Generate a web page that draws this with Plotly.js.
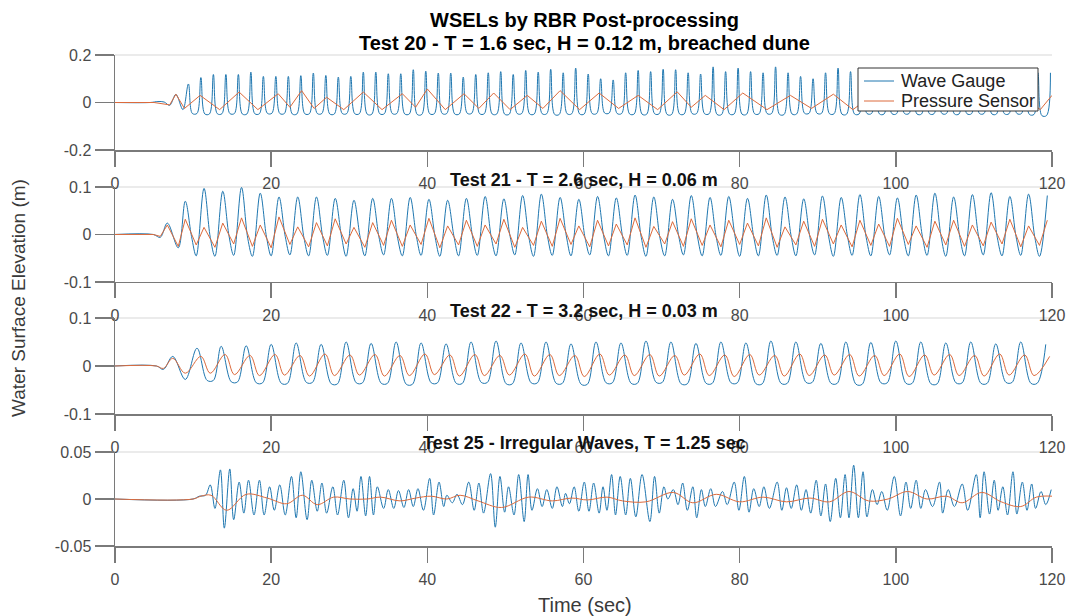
<!DOCTYPE html>
<html><head><meta charset="utf-8">
<script src="https://cdn.plot.ly/plotly-3.0.1.min.js"></script>
<style>html,body{margin:0;padding:0;background:#fff}#chart{width:1067px;height:616px}</style>
</head><body><div id="chart"></div>
<script>
// ---------- Tick labels ----------
const xTicks = [0, 20, 40, 60, 80, 100, 120];
const xTickText = ['0', '20', '40', '60', '80', '100', '120'];
const y20Ticks = [-0.2, 0, 0.2];   const y20TickText = ['-0.2', '0', '0.2'];
const y21Ticks = [-0.1, 0, 0.1];   const y21TickText = ['-0.1', '0', '0.1'];
const y22Ticks = [-0.1, 0, 0.1];   const y22TickText = ['-0.1', '0', '0.1'];
const y25Ticks = [-0.05, 0, 0.05]; const y25TickText = ['-0.05', '0', '0.05'];

const seriesNames = ['Wave Gauge', 'Pressure Sensor'];
const mainTitle = ['WSELs by RBR Post-processing', 'Test 20 - T = 1.6 sec, H = 0.12 m, breached dune'];
const panelTitles = [
  'Test 21 - T = 2.6 sec, H = 0.06 m',
  'Test 22 - T = 3.2 sec, H = 0.03 m',
  'Test 25 - Irregular Waves, T = 1.25 sec'
];

// ---------- Test 20 (T = 1.6 s) ----------
const wg20LeadT = [0, 4.5, 5.5, 6.3, 7.0, 7.8, 8.7];
const wg20LeadY = [0, 0, 0.004, 0.002, -0.012, 0.034, -0.030];
const wg20CrestT = [
  9.4, 11.0, 12.6, 14.2, 15.8, 17.4, 19.0, 20.6, 22.2, 23.8,
  25.4, 27.0, 28.6, 30.2, 31.8, 33.4, 35.0, 36.6, 38.2, 39.8,
  41.4, 43.0, 44.6, 46.2, 47.8, 49.4, 51.0, 52.6, 54.2, 55.8,
  57.4, 59.0, 60.6, 62.2, 63.8, 65.4, 67.0, 68.6, 70.2, 71.8,
  73.4, 75.0, 76.6, 78.2, 79.8, 81.4, 83.0, 84.6, 86.2, 87.8,
  89.4, 91.0, 92.6, 94.2, 95.8, 97.4, 99.0, 100.6, 102.2, 103.8,
  105.4, 107.0, 108.6, 110.2, 111.8, 113.4, 115.0, 116.6, 118.2, 119.8];
const wg20CrestY = [
  0.078, 0.105, 0.118, 0.118, 0.118, 0.128, 0.110, 0.110, 0.110, 0.113,
  0.124, 0.114, 0.107, 0.110, 0.128, 0.128, 0.121, 0.121, 0.138, 0.132,
  0.124, 0.124, 0.107, 0.118, 0.125, 0.130, 0.118, 0.135, 0.128, 0.140,
  0.125, 0.145, 0.120, 0.100, 0.095, 0.125, 0.135, 0.130, 0.140, 0.138,
  0.125, 0.120, 0.150, 0.130, 0.145, 0.130, 0.125, 0.150, 0.125, 0.110,
  0.100, 0.125, 0.145, 0.130, 0.120, 0.130, 0.125, 0.120, 0.130, 0.125,
  0.120, 0.130, 0.125, 0.120, 0.130, 0.125, 0.120, 0.125, 0.125, 0.125];
// broad troughs: start and end of each trough
const wg20TroughStartT = [
  9.9, 11.5, 13.1, 14.7, 16.3, 17.9, 19.5, 21.1, 22.7, 24.3,
  25.9, 27.5, 29.1, 30.7, 32.3, 33.9, 35.5, 37.1, 38.7, 40.3,
  41.9, 43.5, 45.1, 46.7, 48.3, 49.9, 51.5, 53.1, 54.7, 56.3,
  57.9, 59.5, 61.1, 62.7, 64.3, 65.9, 67.5, 69.1, 70.7, 72.3,
  73.9, 75.5, 77.1, 78.7, 80.3, 81.9, 83.5, 85.1, 86.7, 88.3,
  89.9, 91.5, 93.1, 94.7, 96.3, 97.9, 99.5, 101.1, 102.7, 104.3,
  105.9, 107.5, 109.1, 110.7, 112.3, 113.9, 115.5, 117.1, 118.7];
const wg20TroughEndT = [
  10.5, 12.1, 13.7, 15.3, 16.9, 18.5, 20.1, 21.7, 23.3, 24.9,
  26.5, 28.1, 29.7, 31.3, 32.9, 34.5, 36.1, 37.7, 39.3, 40.9,
  42.5, 44.1, 45.7, 47.3, 48.9, 50.5, 52.1, 53.7, 55.3, 56.9,
  58.5, 60.1, 61.7, 63.3, 64.9, 66.5, 68.1, 69.7, 71.3, 72.9,
  74.5, 76.1, 77.7, 79.3, 80.9, 82.5, 84.1, 85.7, 87.3, 88.9,
  90.5, 92.1, 93.7, 95.3, 96.9, 98.5, 100.1, 101.7, 103.3, 104.9,
  106.5, 108.1, 109.7, 111.3, 112.9, 114.5, 116.1, 117.7, 119.3];
const wg20TroughY = [
  -0.046, -0.048, -0.047, -0.046, -0.048, -0.047, -0.045, -0.046, -0.048, -0.047,
  -0.046, -0.048, -0.046, -0.047, -0.049, -0.047, -0.046, -0.048, -0.050, -0.047,
  -0.046, -0.048, -0.045, -0.047, -0.048, -0.049, -0.046, -0.048, -0.047, -0.050,
  -0.047, -0.048, -0.046, -0.044, -0.046, -0.048, -0.049, -0.047, -0.050, -0.048,
  -0.046, -0.047, -0.050, -0.048, -0.049, -0.047, -0.046, -0.050, -0.048, -0.045,
  -0.045, -0.047, -0.049, -0.048, -0.046, -0.048, -0.047, -0.046, -0.048, -0.047,
  -0.046, -0.048, -0.047, -0.046, -0.048, -0.047, -0.046, -0.050, -0.055];
const ps20T = [
  0, 5.0, 7.0, 7.8, 8.9, 10.9, 13.4, 15.9, 18.3, 20.9,
  22.4, 23.9, 25.5, 27.1, 29.3, 31.8, 34.2, 36.8, 38.5, 40.0,
  42.3, 44.7, 46.6, 48.5, 50.6, 52.8, 54.8, 57.0, 59.5, 62.0,
  64.5, 67.0, 69.5, 72.0, 73.8, 75.6, 78.0, 80.4, 83.5, 86.5,
  89.2, 92.0, 94.5, 97.0, 99.5, 102.0, 104.5, 107.0, 109.5, 112.0,
  114.5, 116.5, 118.5, 120.0];
const ps20Y = [
  0, 0, -0.010, 0.035, -0.025, 0.030, -0.030, 0.044, -0.030, 0.037,
  -0.020, 0.050, -0.025, 0.022, -0.030, 0.044, -0.030, 0.037, -0.020, 0.057,
  -0.030, 0.037, -0.025, 0.040, -0.030, 0.030, -0.025, 0.050, -0.030, 0.040,
  -0.025, 0.030, -0.030, 0.045, -0.020, 0.030, -0.030, 0.040, -0.030, 0.030,
  -0.025, 0.035, -0.030, 0.030, -0.025, 0.040, -0.030, 0.035, -0.025, 0.040,
  -0.030, 0.020, -0.030, 0.030];

// ---------- Test 21 (T = 2.6 s) ----------
const wg21LeadT = [0, 4.9, 5.8, 6.7, 8.1];
const wg21LeadY = [0, 0, -0.006, 0.024, -0.028];
const ps21LeadY = [0, 0, -0.004, 0.020, -0.025];
const wg21CrestT = [
  9.0, 11.4, 13.8, 16.2, 18.6, 21.0, 23.4, 25.8, 28.2, 30.6,
  33.0, 35.4, 37.8, 40.2, 42.6, 45.0, 47.4, 49.8, 52.2, 54.6,
  57.0, 59.4, 61.8, 64.2, 66.6, 69.0, 71.4, 73.8, 76.2, 78.6,
  81.0, 83.4, 85.8, 88.2, 90.6, 93.0, 95.4, 97.8, 100.2, 102.6,
  105.0, 107.4, 109.8, 112.2, 114.6, 117.0, 119.4];
const wg21CrestY = [
  0.070, 0.097, 0.091, 0.099, 0.087, 0.079, 0.079, 0.079, 0.076, 0.072,
  0.076, 0.076, 0.078, 0.074, 0.072, 0.076, 0.080, 0.075, 0.082, 0.085,
  0.078, 0.074, 0.080, 0.077, 0.083, 0.079, 0.074, 0.082, 0.078, 0.080,
  0.076, 0.083, 0.079, 0.075, 0.081, 0.078, 0.084, 0.080, 0.077, 0.083,
  0.087, 0.079, 0.084, 0.088, 0.080, 0.085, 0.082];
// shoulder just after each crest (wave gauge drops back near zero)
const wg21ShoulderT = [
  9.8, 12.2, 14.6, 17.0, 19.4, 21.8, 24.2, 26.6, 29.0, 31.4,
  33.8, 36.2, 38.6, 41.0, 43.4, 45.8, 48.2, 50.6, 53.0, 55.4,
  57.8, 60.2, 62.6, 65.0, 67.4, 69.8, 72.2, 74.6, 77.0, 79.4,
  81.8, 84.2, 86.6, 89.0, 91.4, 93.8, 96.2, 98.6, 101.0, 103.4,
  105.8, 108.2, 110.6, 113.0, 115.4, 117.8];
const wg21ShoulderY = [
  -0.004, -0.006, -0.003, -0.008, -0.005, -0.004, -0.007, -0.005, -0.003, -0.006,
  -0.005, -0.008, -0.004, -0.006, -0.003, -0.005, -0.007, -0.004, -0.006, -0.005,
  -0.003, -0.007, -0.005, -0.004, -0.006, -0.008, -0.004, -0.005, -0.006, -0.003,
  -0.005, -0.007, -0.004, -0.006, -0.005, -0.003, -0.006, -0.005, -0.007, -0.004,
  -0.005, -0.006, -0.004, -0.007, -0.005, -0.006];
const wg21TroughT = [
  10.4, 12.8, 15.2, 17.6, 20.0, 22.4, 24.8, 27.2, 29.6, 32.0,
  34.4, 36.8, 39.2, 41.6, 44.0, 46.4, 48.8, 51.2, 53.6, 56.0,
  58.4, 60.8, 63.2, 65.6, 68.0, 70.4, 72.8, 75.2, 77.6, 80.0,
  82.4, 84.8, 87.2, 89.6, 92.0, 94.4, 96.8, 99.2, 101.6, 104.0,
  106.4, 108.8, 111.2, 113.6, 116.0, 118.4];
const wg21TroughY = [
  -0.045, -0.046, -0.044, -0.046, -0.045, -0.043, -0.045, -0.044, -0.046, -0.045,
  -0.043, -0.045, -0.044, -0.046, -0.045, -0.044, -0.045, -0.043, -0.046, -0.044,
  -0.045, -0.043, -0.045, -0.044, -0.046, -0.045, -0.043, -0.045, -0.044, -0.046,
  -0.045, -0.044, -0.045, -0.043, -0.046, -0.044, -0.045, -0.043, -0.045, -0.044,
  -0.046, -0.045, -0.043, -0.045, -0.044, -0.046];
const ps21PeakY = [
  0.032, 0.015, 0.024, 0.035, 0.020, 0.037, 0.016, 0.025, 0.033, 0.015,
  0.025, 0.030, 0.020, 0.034, 0.018, 0.030, 0.020, 0.032, 0.015, 0.028,
  0.034, 0.018, 0.030, 0.022, 0.035, 0.017, 0.027, 0.033, 0.020, 0.030,
  0.024, 0.035, 0.016, 0.028, 0.032, 0.020, 0.030, 0.022, 0.034, 0.018,
  0.028, 0.030, 0.020, 0.026, 0.032, 0.018, 0.030];
const ps21TroughY = [
  -0.022, -0.027, -0.020, -0.025, -0.028, -0.021, -0.026, -0.024, -0.020, -0.027,
  -0.023, -0.025, -0.021, -0.028, -0.022, -0.025, -0.020, -0.027, -0.023, -0.025,
  -0.021, -0.026, -0.024, -0.022, -0.027, -0.020, -0.025, -0.023, -0.026, -0.021,
  -0.024, -0.027, -0.022, -0.025, -0.020, -0.026, -0.023, -0.025, -0.021, -0.027,
  -0.022, -0.025, -0.024, -0.020, -0.026, -0.023];

// ---------- Test 22 (T = 3.2 s) ----------
const wg22LeadT = [0, 5.3, 6.2, 7.4, 9.0];
const wg22LeadY = [0, 0, -0.007, 0.020, -0.028];
const ps22LeadY = [0, 0, -0.005, 0.016, -0.015];
const wg22CrestT = [
  10.5, 13.6, 16.8, 20.0, 23.2, 26.4, 29.6, 32.8, 36.0, 39.2,
  42.4, 45.6, 48.8, 52.0, 55.2, 58.4, 61.6, 64.8, 68.0, 71.2,
  74.4, 77.6, 80.8, 84.0, 87.2, 90.4, 93.6, 96.8, 100.0, 103.2,
  106.4, 109.6, 112.8, 116.0, 119.2];
const wg22CrestY = [
  0.037, 0.041, 0.042, 0.045, 0.048, 0.045, 0.050, 0.047, 0.050, 0.048,
  0.046, 0.050, 0.052, 0.048, 0.050, 0.046, 0.050, 0.048, 0.052, 0.050,
  0.047, 0.050, 0.048, 0.052, 0.050, 0.047, 0.050, 0.049, 0.052, 0.050,
  0.048, 0.050, 0.046, 0.050, 0.045];
const wg22TroughStartT = [
  11.8, 14.9, 18.1, 21.3, 24.5, 27.7, 30.9, 34.1, 37.3, 40.5,
  43.7, 46.9, 50.1, 53.3, 56.5, 59.7, 62.9, 66.1, 69.3, 72.5,
  75.7, 78.9, 82.1, 85.3, 88.5, 91.7, 94.9, 98.1, 101.3, 104.5,
  107.7, 110.9, 114.1, 117.3];
const wg22TroughEndT = [
  12.6, 15.7, 18.9, 22.1, 25.3, 28.5, 31.7, 34.9, 38.1, 41.3,
  44.5, 47.7, 50.9, 54.1, 57.3, 60.5, 63.7, 66.9, 70.1, 73.3,
  76.5, 79.7, 82.9, 86.1, 89.3, 92.5, 95.7, 98.9, 102.1, 105.3,
  108.5, 111.7, 114.9, 118.1];
const wg22TroughY = [
  -0.030, -0.033, -0.035, -0.036, -0.034, -0.037, -0.035, -0.036, -0.038, -0.035,
  -0.036, -0.034, -0.037, -0.035, -0.036, -0.038, -0.035, -0.036, -0.034, -0.037,
  -0.036, -0.035, -0.037, -0.036, -0.034, -0.036, -0.038, -0.035, -0.036, -0.037,
  -0.035, -0.036, -0.034, -0.036];
const ps22PeakT = [
  11.0, 14.1, 17.3, 20.5, 23.7, 26.9, 30.1, 33.3, 36.5, 39.7,
  42.9, 46.1, 49.3, 52.5, 55.7, 58.9, 62.1, 65.3, 68.5, 71.7,
  74.9, 78.1, 81.3, 84.5, 87.7, 90.9, 94.1, 97.3, 100.5, 103.7,
  106.9, 110.1, 113.3, 116.5, 119.7];
const ps22PeakY = [
  0.020, 0.024, 0.022, 0.024, 0.022, 0.025, 0.023, 0.024, 0.022, 0.025,
  0.023, 0.024, 0.022, 0.025, 0.024, 0.022, 0.025, 0.023, 0.024, 0.022,
  0.025, 0.023, 0.024, 0.022, 0.025, 0.023, 0.024, 0.022, 0.025, 0.023,
  0.024, 0.022, 0.025, 0.023, 0.020];
const ps22TroughT = [
  12.2, 15.3, 18.5, 21.7, 24.9, 28.1, 31.3, 34.5, 37.7, 40.9,
  44.1, 47.3, 50.5, 53.7, 56.9, 60.1, 63.3, 66.5, 69.7, 72.9,
  76.1, 79.3, 82.5, 85.7, 88.9, 92.1, 95.3, 98.5, 101.7, 104.9,
  108.1, 111.3, 114.5, 117.7];
const ps22TroughY = [
  -0.015, -0.018, -0.020, -0.019, -0.021, -0.020, -0.019, -0.021, -0.020, -0.018,
  -0.021, -0.020, -0.019, -0.021, -0.020, -0.022, -0.019, -0.020, -0.021, -0.019,
  -0.020, -0.022, -0.019, -0.021, -0.020, -0.019, -0.021, -0.020, -0.022, -0.019,
  -0.020, -0.021, -0.019, -0.020];

// ---------- Test 25 (irregular, T = 1.25 s) ----------
const wg25T = [
  0, 10.0, 10.8, 11.6, 12.2, 12.8, 13.5, 14.0, 14.7, 15.2,
  15.9, 16.5, 17.1, 17.8, 18.5, 19.1, 19.8, 20.4, 21.1, 21.8,
  22.6, 23.2, 23.8, 24.6, 25.2, 25.9, 26.5, 27.1, 27.9, 28.5,
  29.3, 29.9, 30.5, 31.0, 31.5, 32.1, 32.6, 33.1, 33.6, 34.4,
  35.0, 35.7, 36.3, 37.0, 37.6, 38.2, 38.8, 39.5, 40.3, 40.8,
  41.5, 42.1, 42.5, 43.2, 43.8, 44.5, 45.3, 46.0, 46.6, 47.2,
  48.1, 48.7, 49.3, 49.9, 50.4, 51.1, 51.7, 52.4, 52.9, 53.4,
  54.1, 54.7, 55.3, 56.0, 56.6, 57.3, 57.7, 58.2, 58.8, 59.4,
  60.1, 60.7, 61.3, 62.0, 62.5, 63.0, 63.6, 64.1, 64.7, 65.4,
  66.0, 66.7, 67.5, 68.5, 69.1, 69.7, 70.3, 70.8, 71.5, 72.1,
  72.7, 73.3, 74.0, 74.5, 75.1, 75.6, 76.3, 76.9, 77.8, 78.4,
  79.3, 79.9, 80.6, 81.2, 81.8, 82.5, 83.1, 83.8, 84.8, 85.4,
  86.0, 86.6, 87.3, 87.9, 88.5, 89.1, 89.8, 90.4, 91.0, 91.6,
  92.3, 92.9, 93.5, 94.0, 94.6, 95.2, 95.8, 96.3, 97.0, 97.6,
  98.2, 98.9, 99.8, 100.6, 101.3, 101.9, 102.6, 103.2, 103.8, 104.7,
  105.6, 106.0, 106.7, 107.5, 108.5, 109.2, 110.3, 110.8, 111.3, 112.0,
  112.6, 113.1, 113.7, 114.3, 115.0, 115.5, 116.2, 116.8, 117.4, 117.9,
  118.6, 119.2, 119.9];
const wg25Y = [
  0, 0, 0.003, 0.004, 0.015, -0.010, 0.031, -0.031, 0.032, -0.022,
  0.018, -0.015, 0.020, -0.017, 0.020, -0.017, 0.013, -0.012, 0.015, -0.017,
  0.024, -0.020, 0.029, -0.022, 0.020, -0.013, 0.017, -0.015, 0.013, -0.017,
  0.020, -0.020, 0.011, -0.013, 0.024, -0.018, 0.024, -0.017, 0.013, -0.010,
  0.010, -0.010, 0.009, -0.009, 0.010, -0.008, 0.011, -0.012, 0.022, -0.017,
  0.018, -0.008, 0.004, -0.004, 0.005, -0.006, 0.018, -0.012, 0.017, -0.015,
  0.027, -0.030, 0.024, -0.014, 0.013, -0.017, 0.026, -0.024, 0.026, -0.012,
  0.011, -0.008, 0.010, -0.010, 0.013, -0.008, 0.006, -0.005, 0.013, -0.013,
  0.018, -0.013, 0.017, -0.015, 0.013, -0.012, 0.026, -0.017, 0.024, -0.017,
  0.022, -0.019, 0.026, -0.024, 0.024, -0.015, 0.013, 0.000, 0.010, -0.006,
  0.017, -0.012, 0.013, -0.020, 0.010, -0.008, 0.011, -0.008, 0.008, -0.006,
  0.018, -0.012, 0.024, -0.014, 0.011, -0.008, 0.013, -0.010, 0.018, -0.012,
  0.012, -0.010, 0.015, -0.012, 0.010, -0.015, 0.020, -0.018, 0.016, -0.024,
  0.022, -0.020, 0.026, -0.020, 0.036, -0.020, 0.029, -0.019, 0.010, -0.006,
  0.008, -0.012, 0.024, -0.018, 0.018, -0.010, 0.020, -0.010, 0.010, -0.008,
  0.018, -0.015, 0.010, -0.008, 0.016, -0.012, 0.026, -0.020, 0.029, -0.016,
  0.020, -0.012, 0.013, -0.017, 0.029, -0.016, 0.018, -0.012, 0.016, -0.010,
  0.008, -0.006, 0.010];
const ps25T = [
  0, 10.0, 11.0, 12.3, 14.3, 16.8, 19.5, 22.0, 24.0, 25.9,
  28.0, 30.1, 32.3, 34.0, 36.5, 38.5, 40.5, 42.5, 44.2, 46.5,
  49.5, 53.0, 56.0, 58.5, 60.5, 63.0, 65.0, 68.0, 71.5, 74.0,
  77.0, 80.0, 83.0, 86.0, 89.0, 91.5, 94.0, 96.5, 99.0, 101.5,
  104.0, 106.5, 108.5, 111.0, 113.5, 116.0, 118.0, 120.0];
const ps25Y = [
  0, 0, 0.003, 0.004, -0.012, 0.005, 0.001, -0.005, 0.004, -0.006,
  0.002, 0.000, 0.000, 0.002, -0.002, 0.001, 0.003, 0.000, 0.004, -0.002,
  -0.009, 0.002, -0.002, 0.001, -0.001, 0.002, -0.002, -0.003, 0.007, -0.004,
  0.005, -0.003, 0.002, -0.003, 0.001, -0.003, 0.008, -0.002, 0.000, 0.008,
  0.000, 0.003, -0.004, 0.007, -0.003, -0.008, 0.002, 0.003];

// ---------- helpers ----------
function combine(parts) {
  const pts = [];
  parts.forEach(([ts, ys]) => {
    const n = Math.min(ts.length, ys.length);
    for (let i = 0; i < n; i++) pts.push([ts[i], ys[i]]);
  });
  pts.sort((a, b) => a[0] - b[0]);
  return { x: pts.map(p => p[0]), y: pts.map(p => p[1]) };
}

const BLUE = '#1f77b0';
const ORANGE = '#dc6a3c';
const FONT = 'Liberation Sans, Arial, Helvetica, sans-serif';

function trace(d, axis, name, color, shape) {
  return {
    x: d.x, y: d.y, type: 'scatter', mode: 'lines', name: name,
    xaxis: 'x' + (axis === 1 ? '' : axis), yaxis: 'y' + (axis === 1 ? '' : axis),
    line: { color: color, width: 1, shape: shape },
    showlegend: false, hoverinfo: 'skip'
  };
}

const wg20 = combine([[wg20LeadT, wg20LeadY], [wg20CrestT, wg20CrestY],
                      [wg20TroughStartT, wg20TroughY], [wg20TroughEndT, wg20TroughY]]);
const ps20 = combine([[ps20T, ps20Y]]);
const wg21 = combine([[wg21LeadT, wg21LeadY], [wg21CrestT, wg21CrestY],
                      [wg21ShoulderT, wg21ShoulderY], [wg21TroughT, wg21TroughY]]);
const ps21 = combine([[wg21LeadT, ps21LeadY], [wg21CrestT, ps21PeakY], [wg21TroughT, ps21TroughY]]);
const wg22 = combine([[wg22LeadT, wg22LeadY], [wg22CrestT, wg22CrestY],
                      [wg22TroughStartT, wg22TroughY], [wg22TroughEndT, wg22TroughY]]);
const ps22 = combine([[wg22LeadT, ps22LeadY], [ps22PeakT, ps22PeakY], [ps22TroughT, ps22TroughY]]);
const wg25 = combine([[wg25T, wg25Y]]);
const ps25 = combine([[ps25T, ps25Y]]);

const data = [
  trace(wg20, 1, seriesNames[0], BLUE, 'spline'),
  trace(ps20, 1, seriesNames[1], ORANGE, 'linear'),
  trace(wg21, 2, seriesNames[0], BLUE, 'spline'),
  trace(ps21, 2, seriesNames[1], ORANGE, 'linear'),
  trace(wg22, 3, seriesNames[0], BLUE, 'spline'),
  trace(ps22, 3, seriesNames[1], ORANGE, 'spline'),
  trace(wg25, 4, seriesNames[0], BLUE, 'spline'),
  trace(ps25, 4, seriesNames[1], ORANGE, 'spline')
];

const AX = '#7a7a7a';
const tickFont = { family: FONT, size: 16, color: '#4a4a4a' };
function xAxis(anchor) {
  return {
    anchor: anchor, domain: [0, 1], range: [0, 120], tickvals: xTicks, ticktext: xTickText,
    showline: true, linecolor: AX, linewidth: 1.5, ticks: 'outside', ticklen: 15,
    tickwidth: 1.5, tickcolor: AX, showgrid: false, zeroline: false, tickfont: tickFont,
    ticklabelstandoff: 3, fixedrange: true
  };
}
function yAxis(anchor, dom, rng, tv, tt) {
  return {
    anchor: anchor, domain: dom, range: rng, tickvals: tv, ticktext: tt,
    showline: true, linecolor: AX, linewidth: 1.5, ticks: 'outside', ticklen: 19,
    tickwidth: 1.5, tickcolor: AX, showgrid: false, zeroline: false, tickfont: tickFont,
    fixedrange: true
  };
}
const doms = [[0.8065, 1], [0.5377, 0.7312], [0.2688, 0.4644], [0, 0.1914]];

// pixel -> paper helpers (plot area: x 115..1052, y 55..546)
const px = v => (v - 115) / 937;
const py = v => (546 - v) / 491;

const shapes = doms.map(d => ({
  type: 'line', xref: 'paper', yref: 'paper', x0: 0, x1: 1, y0: d[1], y1: d[1],
  line: { color: '#e4e4e4', width: 1.5 }, layer: 'below'
}));
// legend box (drawn over the traces of the top panel)
shapes.push({ type: 'rect', xref: 'paper', yref: 'paper', x0: px(858), x1: px(1038), y0: py(111), y1: py(68),
  fillcolor: '#ffffff', line: { color: '#333333', width: 1 }, layer: 'above' });
shapes.push({ type: 'line', xref: 'paper', yref: 'paper', x0: px(864), x1: px(894), y0: py(81), y1: py(81),
  line: { color: BLUE, width: 1 }, layer: 'above' });
shapes.push({ type: 'line', xref: 'paper', yref: 'paper', x0: px(864), x1: px(894), y0: py(101), y1: py(101),
  line: { color: ORANGE, width: 1 }, layer: 'above' });

const annotations = [];
annotations.push({ text: '<b>' + mainTitle[0] + '</b>', xref: 'paper', yref: 'paper', x: px(584), y: py(20),
  xanchor: 'center', yanchor: 'middle', showarrow: false, font: { family: FONT, size: 20, color: '#000' } });
annotations.push({ text: '<b>' + mainTitle[1] + '</b>', xref: 'paper', yref: 'paper', x: px(584), y: py(43),
  xanchor: 'center', yanchor: 'middle', showarrow: false, font: { family: FONT, size: 20, color: '#000' } });
const subTitleY = [180, 311, 443];
panelTitles.forEach((t, i) => annotations.push({
  text: '<b>' + t + '</b>', xref: 'paper', yref: 'paper', x: px(584), y: py(subTitleY[i]),
  xanchor: 'center', yanchor: 'middle', showarrow: false,
  font: { family: FONT, size: 18, color: '#111' }
}));
annotations.push({ text: seriesNames[0], xref: 'paper', yref: 'paper', x: px(899), y: py(81),
  xanchor: 'left', yanchor: 'middle', showarrow: false, font: { family: FONT, size: 18, color: '#222' } });
annotations.push({ text: seriesNames[1], xref: 'paper', yref: 'paper', x: px(899), y: py(101),
  xanchor: 'left', yanchor: 'middle', showarrow: false, font: { family: FONT, size: 18, color: '#222' } });
annotations.push({
  text: 'Water Surface Elevation (m)', xref: 'paper', yref: 'paper', x: px(18), y: py(298),
  xanchor: 'center', yanchor: 'middle', textangle: -90, showarrow: false,
  font: { family: FONT, size: 19, color: '#3a3a3a' }
});
annotations.push({
  text: 'Time (sec)', xref: 'paper', yref: 'paper', x: px(585), y: py(605),
  xanchor: 'center', yanchor: 'middle', showarrow: false,
  font: { family: FONT, size: 20, color: '#3a3a3a' }
});

const layout = {
  width: 1067, height: 616,
  margin: { l: 115, r: 15, t: 55, b: 70 },
  paper_bgcolor: '#fff', plot_bgcolor: '#fff',
  showlegend: false,
  xaxis: xAxis('y'), xaxis2: xAxis('y2'), xaxis3: xAxis('y3'), xaxis4: xAxis('y4'),
  yaxis: yAxis('x', doms[0], [-0.2, 0.2], y20Ticks, y20TickText),
  yaxis2: yAxis('x2', doms[1], [-0.1, 0.1], y21Ticks, y21TickText),
  yaxis3: yAxis('x3', doms[2], [-0.1, 0.1], y22Ticks, y22TickText),
  yaxis4: yAxis('x4', doms[3], [-0.05, 0.05], y25Ticks, y25TickText),
  shapes: shapes,
  annotations: annotations
};

Plotly.newPlot('chart', data, layout, { displayModeBar: false, staticPlot: true });
</script>
</body></html>
